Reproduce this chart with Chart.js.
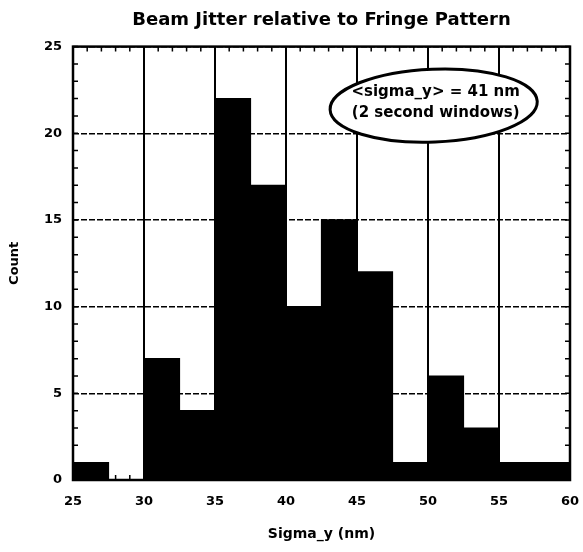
<!DOCTYPE html>
<html>
<head>
<meta charset="utf-8">
<script src="https://cdn.jsdelivr.net/npm/chart.js@4/dist/chart.umd.min.js"></script>
<style>
  html, body { margin: 0; padding: 0; background: #fff; }
  #wrap { width: 583px; height: 552px; }
</style>
</head>
<body>
<div id="wrap"><canvas id="c" width="583" height="552"></canvas></div>
<script>
// ---- data ----
const binStarts = [25, 27.5, 30, 32.5, 35, 37.5, 40, 42.5, 45, 47.5, 50, 52.5, 55, 57.5];
const binWidth = 2.5;
const counts = [1, 0, 7, 4, 22, 17, 10, 15, 12, 1, 6, 3, 1, 1];
const xTicks = [25, 30, 35, 40, 45, 50, 55, 60];
const yTicks = [0, 5, 10, 15, 20, 25];
const titleText = 'Beam Jitter relative to Fringe Pattern';
const xTitle = 'Sigma_y (nm)';
const yTitle = 'Count';
const noteLines = ['<sigma_y> = 41 nm', '(2 second windows)'];

const FONT = "'DejaVu Sans', sans-serif";

const points = binStarts.map((s, i) => ({ x: s + binWidth / 2, y: counts[i] }));

const minorTicks = {
  id: 'minorTicks',
  beforeDatasetsDraw(chart) {
    const { ctx, chartArea: a, scales: { x, y } } = chart;
    ctx.save();
    ctx.strokeStyle = '#000';
    ctx.lineWidth = 1.5;
    const L = 5;
    for (let v = x.min; v <= x.max; v += 1) {
      const px = x.getPixelForValue(v);
      ctx.beginPath();
      ctx.moveTo(px, a.top); ctx.lineTo(px, a.top + L);
      ctx.moveTo(px, a.bottom); ctx.lineTo(px, a.bottom - L);
      ctx.stroke();
    }
    for (let v = y.min; v <= y.max; v += 1) {
      const py = y.getPixelForValue(v);
      ctx.beginPath();
      ctx.moveTo(a.left, py); ctx.lineTo(a.left + L, py);
      ctx.moveTo(a.right, py); ctx.lineTo(a.right - L, py);
      ctx.stroke();
    }
    ctx.restore();
  },
  afterDatasetsDraw(chart) {
    const { ctx, chartArea: a } = chart;
    ctx.save();
    ctx.strokeStyle = '#000';
    ctx.lineWidth = 2.5;
    ctx.strokeRect(a.left, a.top, a.right - a.left, a.bottom - a.top);
    ctx.restore();
  }
};

const note = {
  id: 'note',
  afterDraw(chart) {
    const { ctx, scales: { x, y } } = chart;
    const cx = x.getPixelForValue(50.4);
    const cy = y.getPixelForValue(21.6);
    const rx = x.getPixelForValue(50.4 + 7.3) - cx;
    const ry = y.getPixelForValue(21.6) - y.getPixelForValue(21.6 + 2.1);
    ctx.save();
    ctx.fillStyle = '#fff';
    ctx.strokeStyle = '#000';
    ctx.lineWidth = 3;
    ctx.beginPath();
    ctx.ellipse(cx, cy, rx, ry, -0.04, 0, Math.PI * 2);
    ctx.fill();
    ctx.stroke();
    ctx.fillStyle = '#000';
    ctx.font = 'bold 15px ' + FONT;
    ctx.textAlign = 'center';
    ctx.textBaseline = 'middle';
    ctx.fillText(noteLines[0], cx + 2, cy - 13);
    ctx.fillText(noteLines[1], cx + 2, cy + 8);
    ctx.restore();
  }
};

new Chart(document.getElementById('c'), {
  type: 'bar',
  data: {
    datasets: [{
      data: points,
      backgroundColor: '#000',
      borderColor: '#000',
      borderWidth: 0,
      inflateAmount: 0.6,
      barPercentage: 1,
      categoryPercentage: 1
    }]
  },
  options: {
    responsive: false,
    animation: false,
    layout: { padding: { left: 0, right: 13, top: 0, bottom: 0 } },
    plugins: {
      legend: { display: false },
      tooltip: { enabled: false },
      title: {
        display: true,
        fullSize: false,
        text: titleText,
        color: '#000',
        font: { family: FONT, size: 18, weight: 'bold' },
        padding: { top: 10, bottom: 15 }
      }
    },
    scales: {
      x: {
        type: 'linear',
        min: 25, max: 60,
        offset: false,
        afterBuildTicks(s) { s.ticks = xTicks.map(v => ({ value: v })); },
        afterFit(s) { s.height = 72; s.paddingLeft = 0; s.paddingRight = 0; },
        ticks: {
          color: '#000',
          padding: 14,
          maxRotation: 0,
          font: { family: FONT, size: 13, weight: 'bold' }
        },
        grid: { color: '#000', lineWidth: 2, drawTicks: false, offset: false },
        border: { display: false },
        title: {
          display: true,
          text: xTitle,
          color: '#000',
          font: { family: FONT, size: 14, weight: 'bold' },
          padding: { top: 0, bottom: 9 }
        }
      },
      y: {
        min: 0, max: 25,
        afterBuildTicks(s) { s.ticks = yTicks.map(v => ({ value: v })); },
        afterFit(s) { s.width = 73; },
        ticks: {
          color: '#000',
          padding: 11,
          font: { family: FONT, size: 13, weight: 'bold' }
        },
        grid: { color: '#000', lineWidth: 1.5, drawTicks: false },
        border: { display: false, dash: [6, 2] },
        title: {
          display: true,
          text: yTitle,
          color: '#000',
          font: { family: FONT, size: 13, weight: 'bold' },
          padding: { top: 7, bottom: 0 }
        }
      }
    }
  },
  plugins: [minorTicks, note]
});
</script>
</body>
</html>
